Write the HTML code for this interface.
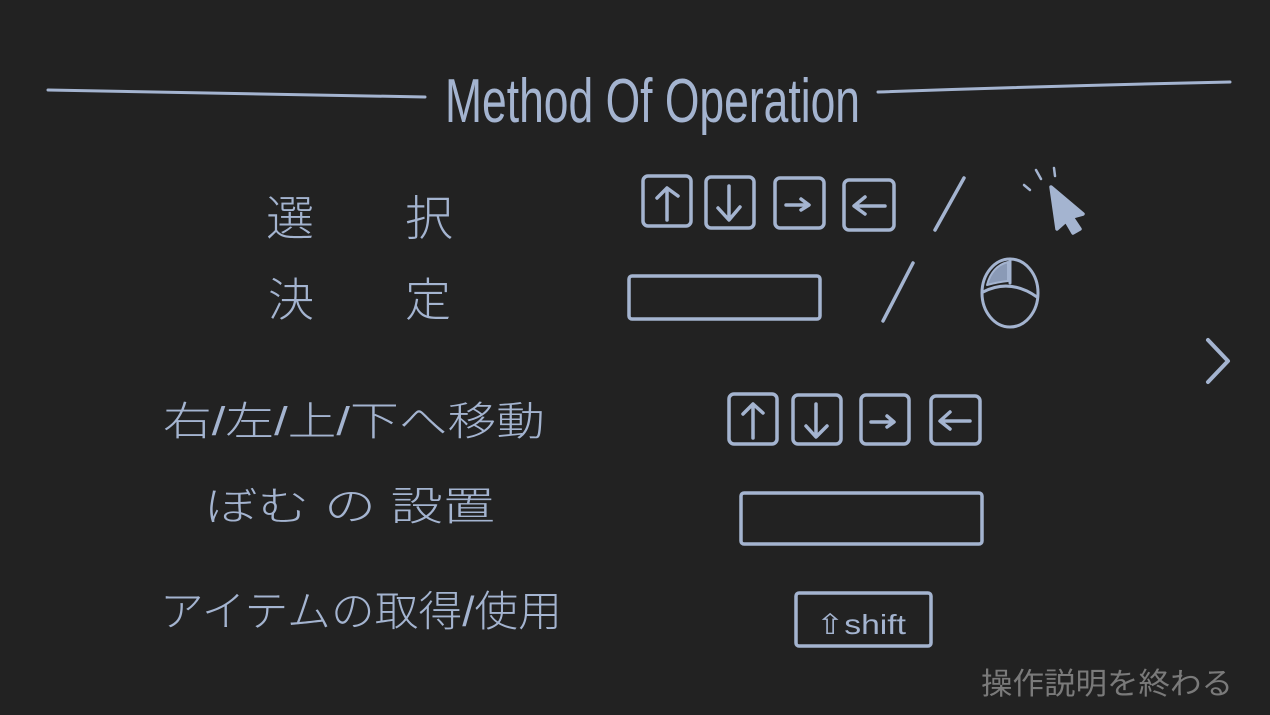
<!DOCTYPE html>
<html><head><meta charset="utf-8"><style>
html,body{margin:0;padding:0;background:#222222;}
svg{display:block}
</style></head><body>
<svg width="1270" height="715" viewBox="0 0 1270 715" xmlns="http://www.w3.org/2000/svg">
<rect width="1270" height="715" fill="#222222"/>
<g stroke="#a4b4d0" stroke-width="3.5" fill="none" stroke-linecap="round" stroke-linejoin="round">
<path d="M48 90 Q230 94 425 97" stroke-width="3"/>
<path d="M878 92 Q1050 86 1230 82" stroke-width="3"/>
<rect x="643" y="176" width="48" height="50" rx="5"/>
<path d="M667 220 V188 M657 198 L667 188 L678 196"/>
<rect x="706" y="177" width="48" height="51" rx="5"/>
<path d="M729 186 V218 M718 208 L729 220 L740 207"/>
<rect x="775" y="178" width="49" height="50" rx="5"/>
<path d="M786 205 H808 M801 199 L809 205 L801 210"/>
<rect x="844" y="180" width="50" height="50" rx="5"/>
<path d="M885 206 H855 M865 197 L854 206 L865 214"/>
<path d="M935 230 L964 178"/>
<path d="M1024 185 L1030 190 M1036 170 L1041 179 M1054 168 L1055 176" stroke-width="2.5"/>
<path d="M1051 187 L1083 214 L1072 217 L1080 229 L1073 233 L1066 221 L1057 229 Z" fill="#a4b4d0"/>
<rect x="629" y="276" width="191" height="43" rx="3"/>
<path d="M883 321 L913 263"/>
<ellipse cx="1010" cy="293" rx="28" ry="34" stroke-width="3"/>
<path d="M983 292 Q1010 278 1037 297 M1010 259 V283" stroke-width="3"/>
<path d="M1008 262 Q992 266 987 285 Q998 282 1008 281 Z" fill="#8a9ab6" stroke-width="2"/>
<path d="M1208 340 L1228 361 L1208 382" stroke-width="4"/>
<rect x="729" y="394" width="48" height="50" rx="5"/>
<path d="M753 438 V404 M743 414 L753 404 L763 413"/>
<rect x="793" y="395" width="48" height="49" rx="5"/>
<path d="M816 404 V436 M806 426 L816 437 L827 426"/>
<rect x="861" y="395" width="48" height="49" rx="5"/>
<path d="M871 422 H893 M887 416 L894 422 L887 427"/>
<rect x="931" y="396" width="49" height="48" rx="5"/>
<path d="M970 421 H941 M950 412 L940 421 L950 429"/>
<rect x="741" y="493" width="241" height="51" rx="3"/>
<rect x="796" y="593" width="135" height="53" rx="3"/>
</g>
<g fill="#a4b4d0" font-family="'Liberation Sans','Noto Sans CJK JP',sans-serif" font-weight="300">
<text x="445" y="122" font-size="62" textLength="415" lengthAdjust="spacingAndGlyphs" font-family="'Liberation Sans',sans-serif">Method Of Operation</text>
<text x="266" y="235" font-size="48">選</text>
<text x="405" y="235" font-size="48">択</text>
<text x="268" y="316" font-size="46">決</text>
<text x="405" y="316" font-size="46">定</text>
<text x="163" y="435" font-size="40" textLength="382" lengthAdjust="spacingAndGlyphs">右/左/上/下へ移動</text>
<text x="205" y="520" font-size="40" textLength="290" lengthAdjust="spacingAndGlyphs">ぼむ の 設置</text>
<text x="160" y="626" font-size="42" textLength="402" lengthAdjust="spacingAndGlyphs">アイテムの取得/使用</text>
<text x="816" y="634" font-size="28" textLength="90" lengthAdjust="spacingAndGlyphs" font-family="'Liberation Sans','DejaVu Sans',sans-serif">⇧shift</text>
</g>
<text x="981" y="694" font-size="30" fill="#7a7a7a" textLength="252" lengthAdjust="spacingAndGlyphs" font-family="'Liberation Sans','Noto Sans CJK JP',sans-serif">操作説明を終わる</text>
</svg>
</body></html>
